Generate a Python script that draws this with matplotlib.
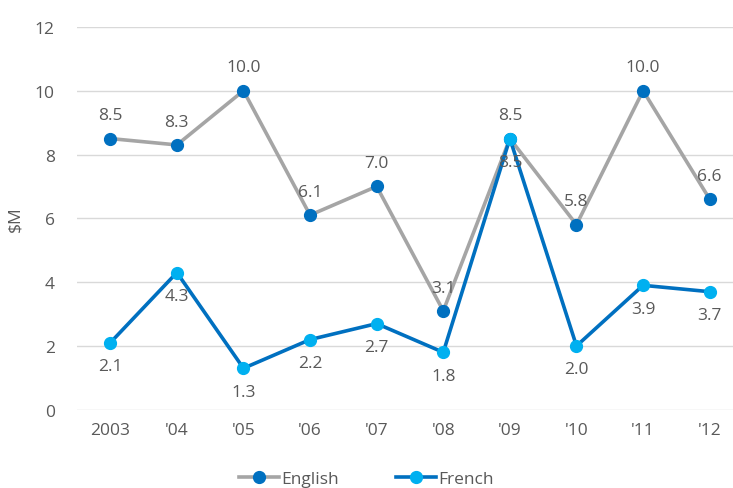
import numpy as np
import matplotlib.pyplot as plt

plt.rcParams['font.family'] = ['Open Sans', 'DejaVu Sans']

# data
years = ["2003", "'04", "'05", "'06", "'07", "'08", "'09", "'10", "'11", "'12"]
english = [8.5, 8.3, 10.0, 6.1, 7.0, 3.1, 8.5, 5.8, 10.0, 6.6]
french = [2.1, 4.3, 1.3, 2.2, 2.7, 1.8, 8.5, 2.0, 3.9, 3.7]

txt = '#595959'
fs = 12.5
x = np.arange(len(years))

fig = plt.figure(figsize=(7.33, 4.89), dpi=100)
ax = fig.add_axes([0.105, 0.16, 0.895, 0.783])

ax.plot(x, english, color='#A5A5A5', lw=2.6, marker='o', ms=8.5,
        mfc='#0070C0', mec='#0070C0', label='English', zorder=3)
ax.plot(x, french, color='#0070C0', lw=2.6, marker='o', ms=8.5,
        mfc='#00B0F0', mec='#00B0F0', label='French', zorder=4)

for xi, v in zip(x, english):
    ax.annotate(f"{v:.1f}", (xi, v), xytext=(0, 11), textcoords='offset points',
                ha='center', va='bottom', fontsize=fs, color=txt, zorder=5)
for xi, v in zip(x, french):
    ax.annotate(f"{v:.1f}", (xi, v), xytext=(0, -11), textcoords='offset points',
                ha='center', va='top', fontsize=fs, color=txt, zorder=5)

ax.set_ylim(0, 12)
ax.set_yticks(range(0, 13, 2))
ax.set_xlim(-0.5, 9.35)
ax.set_xticks(x)
ax.set_xticklabels(years)
ax.grid(axis='y', color='#D9D9D9', lw=1)
ax.set_axisbelow(True)
for s in ax.spines.values():
    s.set_visible(False)
ax.tick_params(length=0, labelsize=fs, colors=txt, pad=9)
ax.tick_params(axis='y', pad=16)
ax.set_ylabel('\\$M', fontsize=fs, color=txt, labelpad=8)

fig.legend(loc='lower center', bbox_to_anchor=(0.5, -0.03), ncol=2, frameon=False,
           fontsize=fs, labelcolor=txt, handlelength=2.3, columnspacing=3.3,
           handletextpad=0.15)

fig.savefig('out.png', dpi=100)
